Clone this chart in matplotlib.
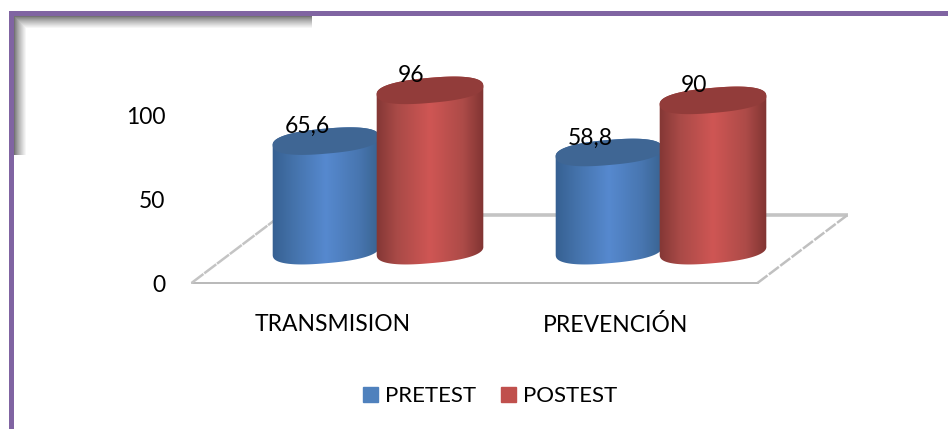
import numpy as np
import matplotlib
matplotlib.use("Agg")
import matplotlib.pyplot as plt
from matplotlib.colors import LinearSegmentedColormap
from matplotlib.patches import Patch, PathPatch, Polygon, Rectangle
from matplotlib.path import Path

plt.rcParams['font.family'] = ['Lato', 'DejaVu Sans']

categories = ['TRANSMISION', 'PREVENCIÓN']
pretest = [65.6, 58.8]
postest = [96, 90]
pretest_labels = ['65,6', '58,8']
postest_labels = ['96', '90']
y_ticks = [0, 50, 100]

W, H = 948, 429
fig = plt.figure(figsize=(W / 100, H / 100), dpi=100, facecolor='white')

# purple frame and the soft shadow inside its top left corner
bg = fig.add_axes([0, 0, 1, 1], zorder=0)
bg.axis('off')
xx, yy = np.meshgrid(np.arange(14, 312), np.arange(16, 155))
shade = np.minimum(np.clip((xx - 14) / 12, 0, 1), np.clip((yy - 16) / 12, 0, 1))
bg.imshow(0.45 + 0.55 * shade ** 0.8, cmap='gray', vmin=0, vmax=1,
          extent=(14, 312, 155, 16), aspect='auto', interpolation='bilinear')
bg.set_xlim(0, W)
bg.set_ylim(H, 0)
frame = '#8064a2'
bg.add_patch(Rectangle((9, 11), W - 9, 5, color=frame, lw=0))
bg.add_patch(Rectangle((9, 11), 5, H - 11, color=frame, lw=0))

# main axes: the x axis is the front edge of the floor
left, right, y0, y100 = 191.5, 757.5, 283, 116
ax = fig.add_axes([left / W, 1 - y0 / H, (right - left) / W, (y0 - y100) / H], zorder=1)
ax.patch.set_alpha(0)
ax.set_autoscale_on(False)
xlim = (-0.5, 1.5)
ylim = (0, 100)
ax.set_xlim(*xlim)
ax.set_ylim(*ylim)
for s in ax.spines.values():
    s.set_visible(False)

px_x = (right - left) / 2
px_y = (y0 - y100) / 100

# floor parallelogram, going back by this much
depth_x = 90 / px_x
depth_y = 68 / px_y
ax.plot([-0.5, 1.5], [0, 0], color='#a6a6a6', lw=1.1, clip_on=False, zorder=1)
ax.plot([-0.5 + depth_x, 1.5 + depth_x], [depth_y, depth_y], color='#c4c4c4', lw=2.6,
        clip_on=False, zorder=1, solid_capstyle='butt')
ax.plot([-0.5, -0.5 + depth_x], [0, depth_y], color='#c4c4c4', lw=1.8, clip_on=False,
        zorder=1, linestyle=(0, (6, 0.4)))
ax.plot([1.5, 1.5 + depth_x], [0, depth_y], color='#c0c0c0', lw=1.8, clip_on=False,
        zorder=1, linestyle=(0, (5, 0.7)))

# cylinder shape, in pixels then scaled to data units
semi_a, semi_b = 53.5, 12.5
tilt = np.radians(5)
squareness = 0.82
base = depth_y / 2 - 1


def arc(cx, cy, t_from, t_to):
    t = np.linspace(t_from, t_to, 120)
    ux = semi_a * np.sign(np.cos(t)) * np.abs(np.cos(t)) ** squareness
    uy = semi_b * np.sign(np.sin(t)) * np.abs(np.sin(t)) ** squareness
    ex = ux * np.cos(tilt) - uy * np.sin(tilt)
    ey = ux * np.sin(tilt) + uy * np.cos(tilt)
    return np.column_stack([cx + ex / px_x, cy + ey / px_y])


def cylinder(x, value, side_stops, top_color, order):
    lower = arc(x, base, np.pi, 2 * np.pi)
    upper = arc(x, base + value, 0, np.pi)
    outline = np.vstack([lower, upper])
    body = PathPatch(Path(np.vstack([outline, outline[0]]), closed=True),
                     transform=ax.transData, facecolor='none', edgecolor='none', clip_on=False)
    ax.add_patch(body)
    cmap = LinearSegmentedColormap.from_list('side', side_stops)
    half = semi_a * 1.02 / px_x
    im = ax.imshow(np.linspace(0, 1, 256).reshape(1, -1), cmap=cmap, aspect='auto',
                   extent=(x - half, x + half, 0, base + value + 20), zorder=order)
    im.set_clip_box(fig.bbox)
    im.set_clip_path(body)
    ax.add_patch(Polygon(arc(x, base + value, 0, 2 * np.pi), closed=True,
                         facecolor=top_color, edgecolor='none', zorder=order + 0.1,
                         clip_on=False))


blue_side = [(0, '#355f90'), (0.2, '#4472aa'), (0.5, '#5689cf'), (0.8, '#4876b0'), (1, '#38628f')]
red_side = [(0, '#813634'), (0.2, '#a94a47'), (0.5, '#cf5654'), (0.8, '#ad4b48'), (1, '#7e3331')]
bar_shift = 52 / px_x

for i in range(len(categories)):
    xc = i + depth_x / 2
    cylinder(xc - bar_shift, pretest[i], blue_side, '#3f6694', 3 + i)
    cylinder(xc + bar_shift, postest[i], red_side, '#923c3a', 3.5 + i)
    for x, v, lab in [(xc - bar_shift, pretest[i], pretest_labels[i]),
                      (xc + bar_shift, postest[i], postest_labels[i])]:
        ax.annotate(lab, (x, base + v), xytext=(-13.5, 10.5), textcoords='offset points',
                    ha='center', va='center', fontsize=16.5, color='black', zorder=10,
                    annotation_clip=False)

ax.set_xlim(*xlim)
ax.set_ylim(*ylim)
ax.set_xticks([0, 1], categories)
ax.set_yticks(y_ticks)
ax.tick_params(axis='both', length=0, labelsize=16.5, labelcolor='black')
ax.tick_params(axis='y', pad=19)
ax.tick_params(axis='x', pad=22)

handles = [Patch(color='#4f81bd', label='PRETEST'), Patch(color='#c0504d', label='POSTEST')]
fig.legend(handles=handles, loc='center', bbox_to_anchor=(490 / W, 1 - 396 / H), ncol=2,
           frameon=False, fontsize=16, handlelength=0.68, handleheight=0.68,
           handletextpad=0.32, columnspacing=1.1)

fig.savefig('out.png', dpi=100)
